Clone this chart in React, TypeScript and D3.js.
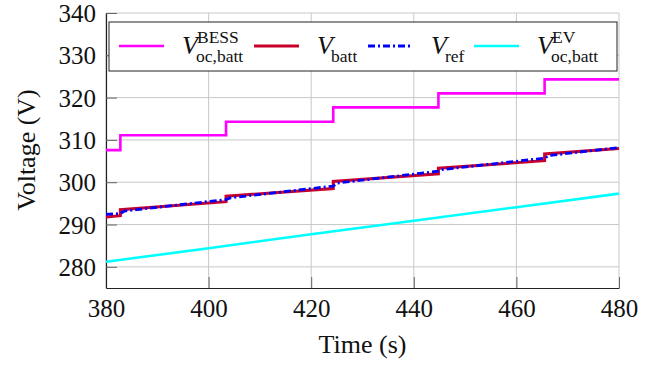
import * as d3 from 'd3';
import { useEffect, useRef } from 'react';

// tick values
const xTicks = [380, 400, 420, 440, 460, 480];
const yTicks = [280, 290, 300, 310, 320, 330, 340];

// V_oc,batt^BESS (stepwise)
const bessT = [380, 382.8, 382.8, 403.4, 403.4, 424.3, 424.3, 444.8, 444.8, 465.5, 465.5, 480];
const bessV = [307.6, 307.6, 311.1, 311.1, 314.3, 314.3, 317.7, 317.7, 321.0, 321.0, 324.3, 324.3];

// V_batt
const battT = [380, 382.8, 382.8, 403.4, 403.4, 424.3, 424.3, 444.8, 444.8, 465.5, 465.5, 480];
const battV = [291.8, 292.1, 293.5, 295.4, 296.7, 298.5, 300.2, 302.0, 303.3, 305.1, 306.7, 308.0];

// V_ref
const refT = [380, 382.8, 383.6, 403.4, 404.2, 424.3, 425.1, 444.8, 445.6, 465.5, 466.3, 480];
const refV = [292.4, 292.6, 293.2, 295.9, 296.3, 299.1, 299.8, 302.6, 303.0, 305.7, 306.3, 308.2];

// V_oc,batt^EV
const evT = [380, 400, 420, 440, 460, 480];
const evV = [281.2, 284.4, 287.7, 290.9, 294.1, 297.3];

const W = 662;
const H = 367;
const plot = { left: 106, right: 619, top: 13, bottom: 288 };
const font = 'Liberation Serif';

export default function App() {
  const ref = useRef<SVGSVGElement>(null);

  useEffect(() => {
    const svg = d3.select(ref.current);
    svg.selectAll('*').remove();

    const x = d3.scaleLinear().domain([380, 480]).range([plot.left, plot.right]);
    const y = d3.scaleLinear().domain([275, 340]).range([plot.bottom, plot.top]);

    // grid
    const grid = svg.append('g').attr('stroke', '#c8c8c8').attr('stroke-width', 1);
    grid
      .selectAll('.gx')
      .data(xTicks)
      .enter()
      .append('line')
      .attr('x1', (d) => x(d))
      .attr('x2', (d) => x(d))
      .attr('y1', plot.top)
      .attr('y2', plot.bottom);
    grid
      .selectAll('.gy')
      .data(yTicks)
      .enter()
      .append('line')
      .attr('x1', plot.left)
      .attr('x2', plot.right)
      .attr('y1', (d) => y(d))
      .attr('y2', (d) => y(d));

    // axes
    const xAxis = svg
      .append('g')
      .attr('transform', `translate(0,${plot.bottom})`)
      .attr('font-family', font)
      .call(d3.axisBottom(x).tickValues(xTicks).tickSizeInner(-11).tickSizeOuter(0).tickPadding(11));
    const yAxis = svg
      .append('g')
      .attr('transform', `translate(${plot.left},0)`)
      .attr('font-family', font)
      .call(d3.axisLeft(y).tickValues(yTicks).tickSizeInner(-11).tickSizeOuter(0).tickPadding(10));
    [xAxis, yAxis].forEach((a) => {
      a.attr('font-family', font).attr('font-size', 25);
      a.select('.domain').attr('stroke', '#222').attr('stroke-width', 1.2);
      a.selectAll('.tick line').attr('stroke', '#666').attr('stroke-width', 1);
      a.selectAll('.tick text').attr('fill', '#111');
    });
    xAxis.selectAll('.tick text').attr('dy', '0.71em');
    yAxis.selectAll('.tick text').attr('dy', '0.34em');

    // series
    svg
      .append('clipPath')
      .attr('id', 'clip')
      .append('rect')
      .attr('x', plot.left)
      .attr('y', plot.top)
      .attr('width', plot.right - plot.left)
      .attr('height', plot.bottom - plot.top);

    const line = d3
      .line<[number, number]>()
      .x((d) => x(d[0]))
      .y((d) => y(d[1]));
    const series = [
      { t: evT, v: evV, color: '#00ffff', w: 2.6, dash: null },
      { t: bessT, v: bessV, color: '#ff00ff', w: 2.6, dash: null },
      { t: battT, v: battV, color: '#c8002a', w: 3, dash: null },
      { t: refT, v: refV, color: '#0000ff', w: 2.8, dash: '7,3,2,3' },
    ];
    const g = svg.append('g').attr('clip-path', 'url(#clip)');
    series.forEach((s) => {
      g.append('path')
        .datum(s.t.map((t, i) => [t, s.v[i]] as [number, number]))
        .attr('d', line)
        .attr('fill', 'none')
        .attr('stroke', s.color)
        .attr('stroke-width', s.w)
        .attr('stroke-dasharray', s.dash);
    });

    // axis labels
    svg
      .append('text')
      .attr('x', (plot.left + plot.right) / 2)
      .attr('y', 353)
      .attr('text-anchor', 'middle')
      .attr('font-family', font)
      .attr('font-size', 26)
      .attr('fill', '#111')
      .text('Time (s)');
    svg
      .append('text')
      .attr('transform', `translate(35,150) rotate(-90)`)
      .attr('text-anchor', 'middle')
      .attr('font-family', font)
      .attr('font-size', 26)
      .attr('fill', '#111')
      .text('Voltage (V)');

    // legend
    const lg = svg.append('g');
    lg.append('rect')
      .attr('x', 109)
      .attr('y', 22)
      .attr('width', 508)
      .attr('height', 49)
      .attr('fill', 'white')
      .attr('stroke', '#222')
      .attr('stroke-width', 1);
    const entries = [
      { x: 119, color: '#ff00ff', w: 2.6, dash: null, sub: 'oc,batt', sup: 'BESS' },
      { x: 254, color: '#c8002a', w: 3, dash: null, sub: 'batt', sup: '' },
      { x: 368, color: '#0000ff', w: 2.8, dash: '7,3,2,3', sub: 'ref', sup: '' },
      { x: 474, color: '#00ffff', w: 2.6, dash: null, sub: 'oc,batt', sup: 'EV' },
    ];
    entries.forEach((e) => {
      lg.append('line')
        .attr('x1', e.x)
        .attr('x2', e.x + 45)
        .attr('y1', 46)
        .attr('y2', 46)
        .attr('stroke', e.color)
        .attr('stroke-width', e.w)
        .attr('stroke-dasharray', e.dash);
      const vx = e.x + 63;
      lg.append('text')
        .attr('x', vx)
        .attr('y', 54)
        .attr('font-family', font)
        .attr('font-size', 26)
        .attr('font-style', 'italic')
        .attr('fill', '#111')
        .text('V');
      if (e.sup) {
        lg.append('text')
          .attr('x', vx + 15)
          .attr('y', 43)
          .attr('font-family', font)
          .attr('font-size', 17.5)
          .attr('fill', '#111')
          .text(e.sup);
      }
      lg.append('text')
        .attr('x', vx + 14)
        .attr('y', 62)
        .attr('font-family', font)
        .attr('font-size', 17.5)
        .attr('fill', '#111')
        .text(e.sub);
    });
  }, []);

  return (
    <div style={{ position: 'absolute', left: 0, top: 0 }}>
      <svg ref={ref} width={W} height={H} style={{ background: 'white', display: 'block' }} />
    </div>
  );
}
